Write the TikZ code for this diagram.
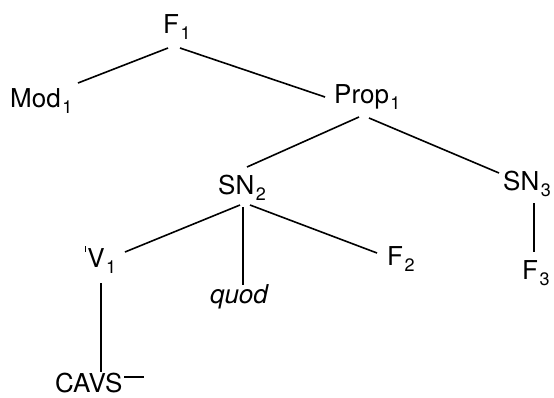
\documentclass[tikz,border=0pt]{standalone}
\usepackage{fontspec}
\setmainfont{TeX Gyre Heros}
% lowered index digit
\newcommand{\low}[1]{\kern1.5pt\raisebox{-6pt}{\fontsize{18}{18}\selectfont #1}}
\begin{document}
\begin{tikzpicture}[x=1pt,y=-1pt,
  lbl/.style={anchor=base west, inner sep=0pt, font=\fontsize{26}{30}\selectfont},
  edge/.style={line width=1.6pt}]
\useasboundingbox (0,0) rectangle (554,397);

% labels of the tree
\node[lbl] (F1)   at (163,33)  {F\low{1}};
\node[lbl] (Mod)  at (10,107)  {Mod\low{1}};
\node[lbl] (Prop) at (334,103) {Prop\low{1}};
\node[lbl] (SN2)  at (218,194) {SN\low{2}};
\node[lbl] (SN3)  at (503,190) {SN\low{3}};
\node[lbl] (V1)   at (85,267)  {\rule[15pt]{1.2pt}{6pt}\kern1pt V\low{1}};
\node[lbl] (quod) at (210,303) {\itshape quod};
\node[lbl] (F2)   at (387,265) {F\low{2}};
\node[lbl] (F3)   at (522,279) {F\low{3}};
\node[lbl] (CAVS) at (55,392)  {CAVS\kern2pt\rule[14pt]{20pt}{1.6pt}};

% branches
\draw[edge] ([shift={(5,15)}]F1.base west)    -- ([shift={(68,-24)}]Mod.base west);
\draw[edge] ([shift={(17,15)}]F1.base west)   -- ([shift={(-9,-6)}]Prop.base west);
\draw[edge] ([shift={(25,14)}]Prop.base west) -- ([shift={(29,-27)}]SN2.base west);
\draw[edge] ([shift={(35,15)}]Prop.base west) -- ([shift={(-4,-17)}]SN3.base west);
\draw[edge] ([shift={(22,11)}]SN2.base west)  -- ([shift={(40,-15)}]V1.base west);
\draw[edge] ([shift={(25,13)}]SN2.base west)  -- ([shift={(33,-18)}]quod.base west);
\draw[edge] ([shift={(32,11)}]SN2.base west)  -- ([shift={(-10,-12)}]F2.base west);
\draw[edge] ([shift={(31,13)}]SN3.base west)  -- ([shift={(12,-27)}]F3.base west);
\draw[edge] ([shift={(16,16)}]V1.base west)   -- ([shift={(46,-20)}]CAVS.base west);
\end{tikzpicture}
\end{document}
